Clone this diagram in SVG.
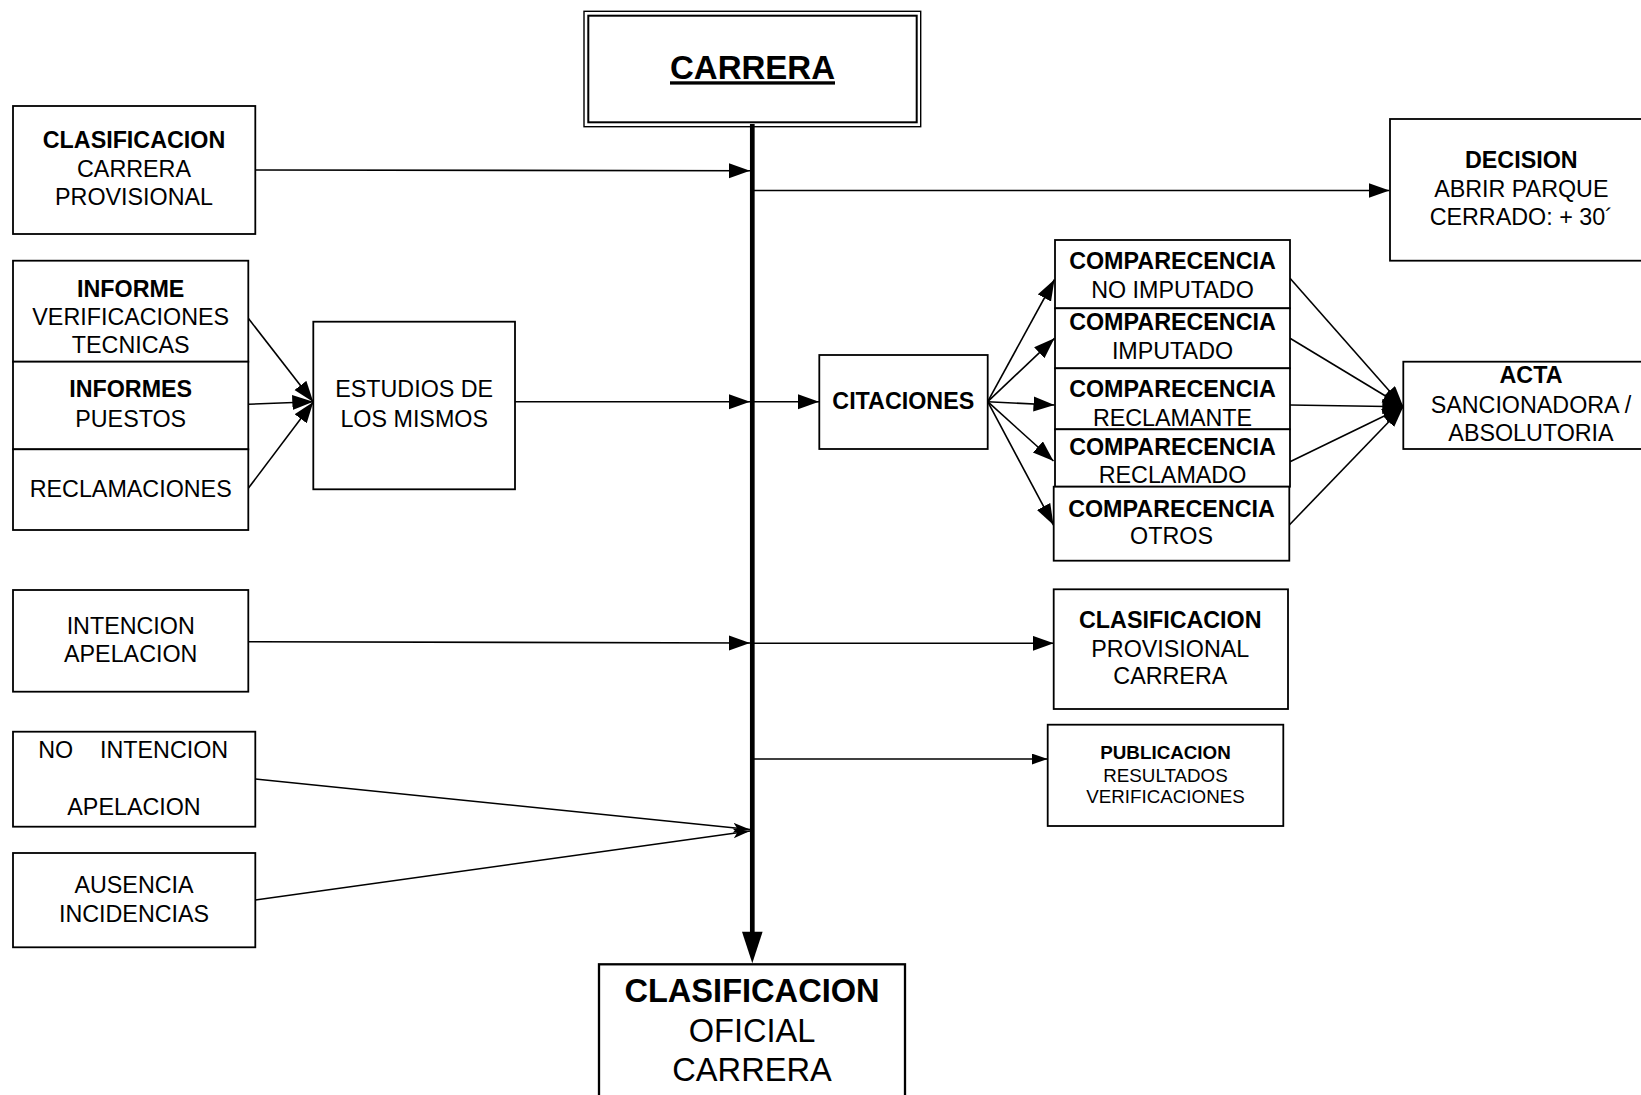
<svg xmlns="http://www.w3.org/2000/svg" width="1641" height="1095" viewBox="0 0 1641 1095">
<style>
.box{fill:#fff;stroke:#000;stroke-width:1.8}
.t{font-family:"Liberation Sans",Arial,sans-serif;font-size:23.3px;text-anchor:middle;fill:#000}
.b{font-weight:bold}
.c{stroke:#000;stroke-width:1.6;fill:none}
</style>
<defs>
<marker id="arr" markerUnits="userSpaceOnUse" markerWidth="22" markerHeight="16" refX="21" refY="7.5" orient="auto"><path d="M0,0 L21,7.5 L0,15 z" fill="#000"/></marker>
<marker id="arrS" markerUnits="userSpaceOnUse" markerWidth="17" markerHeight="12" refX="16" refY="5.5" orient="auto"><path d="M0,0 L16,5.5 L0,11 z" fill="#000"/></marker>
<marker id="arrT" markerUnits="userSpaceOnUse" markerWidth="18" markerHeight="12" refX="17" refY="5" orient="auto"><path d="M0,0 L17,5 L0,10 L4,5 z" fill="#000"/></marker>
</defs>
<rect width="1641" height="1095" fill="#fff"/>

<g id="carrera">
<rect x="584" y="11.3" width="336.7" height="115.4" fill="#fff" stroke="#000" stroke-width="1.4"/>
<rect x="588.3" y="15.7" width="328.4" height="106.6" fill="none" stroke="#000" stroke-width="2"/>
<text class="t b" x="752.5" y="79.3" font-size="33" style="font-size:33px" text-decoration="underline">CARRERA</text>
</g>

<g id="connectors">
<line x1="752.3" y1="124" x2="752.3" y2="934" stroke="#000" stroke-width="4.7"/>
<polygon points="742,931.7 762.6,931.7 752.3,963.3" fill="#000"/>
<line class="c" x1="255.3" y1="170" x2="750" y2="170.7" marker-end="url(#arr)"/>
<line class="c" x1="754" y1="190.5" x2="1389.5" y2="190.5" marker-end="url(#arr)"/>
<line class="c" x1="248.3" y1="318.3" x2="313.3" y2="402" marker-end="url(#arr)"/>
<line class="c" x1="248.3" y1="404.3" x2="313.3" y2="401.7" marker-end="url(#arr)"/>
<line class="c" x1="248.3" y1="488.3" x2="313.3" y2="402" marker-end="url(#arr)"/>
<line class="c" x1="515" y1="401.7" x2="750" y2="401.7" marker-end="url(#arr)"/>
<line class="c" x1="754" y1="401.7" x2="819" y2="401.7" marker-end="url(#arr)"/>
<line class="c" x1="987.7" y1="401.7" x2="1054.5" y2="279.5" marker-end="url(#arr)"/>
<line class="c" x1="987.7" y1="401.7" x2="1054.5" y2="338.3" marker-end="url(#arr)"/>
<line class="c" x1="987.7" y1="401.7" x2="1054.5" y2="405" marker-end="url(#arr)"/>
<line class="c" x1="987.7" y1="401.7" x2="1053.5" y2="461" marker-end="url(#arr)"/>
<line class="c" x1="987.7" y1="401.7" x2="1053.5" y2="525" marker-end="url(#arr)"/>
<line class="c" x1="1290" y1="278.3" x2="1403.3" y2="406.7" marker-end="url(#arr)"/>
<line class="c" x1="1290" y1="338.3" x2="1403.3" y2="406.7" marker-end="url(#arr)"/>
<line class="c" x1="1290" y1="405" x2="1403.3" y2="406.7" marker-end="url(#arr)"/>
<line class="c" x1="1290" y1="461.7" x2="1403.3" y2="406.7" marker-end="url(#arr)"/>
<line class="c" x1="1289.3" y1="525" x2="1403.3" y2="406.7" marker-end="url(#arr)"/>
<line class="c" x1="248.3" y1="641.7" x2="750" y2="643" marker-end="url(#arr)"/>
<line class="c" x1="754" y1="643.3" x2="1053.7" y2="643.3" marker-end="url(#arr)"/>
<line class="c" x1="754" y1="759" x2="1047.7" y2="759" marker-end="url(#arrS)"/>
<line class="c" x1="255.3" y1="779" x2="750" y2="829.5" marker-end="url(#arrT)"/>
<line class="c" x1="255.3" y1="900" x2="750" y2="831" marker-end="url(#arrT)"/>
</g>

<g id="clasif-carrera-provisional">
<rect class="box" x="13" y="106" width="242.3" height="128"/>
<text class="t b" x="134" y="148.3">CLASIFICACION</text>
<text class="t" x="134" y="176.7">CARRERA</text>
<text class="t" x="134" y="205">PROVISIONAL</text>
</g>

<g id="informe-verificaciones">
<rect class="box" x="13" y="260.7" width="235.3" height="101"/>
<text class="t b" x="130.7" y="296.7">INFORME</text>
<text class="t" x="130.7" y="325">VERIFICACIONES</text>
<text class="t" x="130.7" y="352.7">TECNICAS</text>
</g>
<g id="informes-puestos">
<rect class="box" x="13" y="361.7" width="235.3" height="87.6"/>
<text class="t b" x="130.7" y="397.3">INFORMES</text>
<text class="t" x="130.7" y="426.7">PUESTOS</text>
</g>
<g id="reclamaciones">
<rect class="box" x="13" y="449.3" width="235.3" height="80.7"/>
<text class="t" x="130.7" y="496.7">RECLAMACIONES</text>
</g>

<g id="estudios">
<rect class="box" x="313.3" y="321.7" width="201.7" height="167.6"/>
<text class="t" x="414.2" y="397.3">ESTUDIOS DE</text>
<text class="t" x="414.2" y="426.7">LOS MISMOS</text>
</g>

<g id="intencion">
<rect class="box" x="13" y="590" width="235.3" height="101.7"/>
<text class="t" x="130.7" y="634">INTENCION</text>
<text class="t" x="130.7" y="661.7">APELACION</text>
</g>

<g id="no-intencion">
<rect class="box" x="13" y="731.7" width="242.3" height="95"/>
<text class="t" x="38.3" y="758.3" style="text-anchor:start">NO</text>
<text class="t" x="100" y="758.3" style="text-anchor:start">INTENCION</text>
<text class="t" x="134" y="815">APELACION</text>
</g>

<g id="ausencia">
<rect class="box" x="13" y="853" width="242.3" height="94.3"/>
<text class="t" x="134" y="892.7">AUSENCIA</text>
<text class="t" x="134" y="921.7">INCIDENCIAS</text>
</g>

<g id="oficial">
<rect class="box" x="599" y="964.3" width="306" height="140" style="stroke-width:2.3"/>
<text class="t b" x="752" y="1001.7" style="font-size:32.6px">CLASIFICACION</text>
<text class="t" x="752" y="1042.3" style="font-size:32.6px">OFICIAL</text>
<text class="t" x="752" y="1081" style="font-size:32.6px">CARRERA</text>
</g>

<g id="decision">
<rect class="box" x="1390" y="119" width="260" height="141.7"/>
<text class="t b" x="1521.3" y="168.3">DECISION</text>
<text class="t" x="1521.3" y="196.7">ABRIR PARQUE</text>
<text class="t" x="1521.3" y="225">CERRADO: + 30´</text>
</g>

<g id="citaciones">
<rect class="box" x="819.3" y="355" width="168.4" height="94"/>
<text class="t b" x="903.3" y="409">CITACIONES</text>
</g>

<g id="comp-no-imputado">
<rect class="box" x="1055" y="240" width="235" height="68.3"/>
<text class="t b" x="1172.5" y="269.3">COMPARECENCIA</text>
<text class="t" x="1172.5" y="297.7">NO IMPUTADO</text>
</g>
<g id="comp-imputado">
<rect class="box" x="1055" y="308.3" width="235" height="60"/>
<text class="t b" x="1172.5" y="330">COMPARECENCIA</text>
<text class="t" x="1172.5" y="359">IMPUTADO</text>
</g>
<g id="comp-reclamante">
<rect class="box" x="1055" y="368.3" width="235" height="61"/>
<text class="t b" x="1172.5" y="397.3">COMPARECENCIA</text>
<text class="t" x="1172.5" y="425.7">RECLAMANTE</text>
</g>
<g id="comp-reclamado">
<rect class="box" x="1055" y="429.3" width="235" height="57.4"/>
<text class="t b" x="1172.5" y="455">COMPARECENCIA</text>
<text class="t" x="1172.5" y="482.7">RECLAMADO</text>
</g>
<g id="comp-otros">
<rect class="box" x="1053.7" y="486.7" width="235.6" height="74"/>
<text class="t b" x="1171.5" y="516.7">COMPARECENCIA</text>
<text class="t" x="1171.5" y="544">OTROS</text>
</g>

<g id="acta">
<rect class="box" x="1403.3" y="361.7" width="250" height="87.3"/>
<text class="t b" x="1531" y="383.3">ACTA</text>
<text class="t" x="1531" y="413.3">SANCIONADORA /</text>
<text class="t" x="1531" y="440.7">ABSOLUTORIA</text>
</g>

<g id="clasif-provisional-carrera">
<rect class="box" x="1053.7" y="589.3" width="234.3" height="119.7"/>
<text class="t b" x="1170.3" y="627.7">CLASIFICACION</text>
<text class="t" x="1170.3" y="656.7">PROVISIONAL</text>
<text class="t" x="1170.3" y="684.3">CARRERA</text>
</g>

<g id="publicacion">
<rect class="box" x="1047.7" y="724.7" width="235.6" height="101.3"/>
<text class="t b" x="1165.5" y="759" style="font-size:18.8px">PUBLICACION</text>
<text class="t" x="1165.5" y="781.7" style="font-size:18.8px">RESULTADOS</text>
<text class="t" x="1165.5" y="803.3" style="font-size:18.8px">VERIFICACIONES</text>
</g>
</svg>
